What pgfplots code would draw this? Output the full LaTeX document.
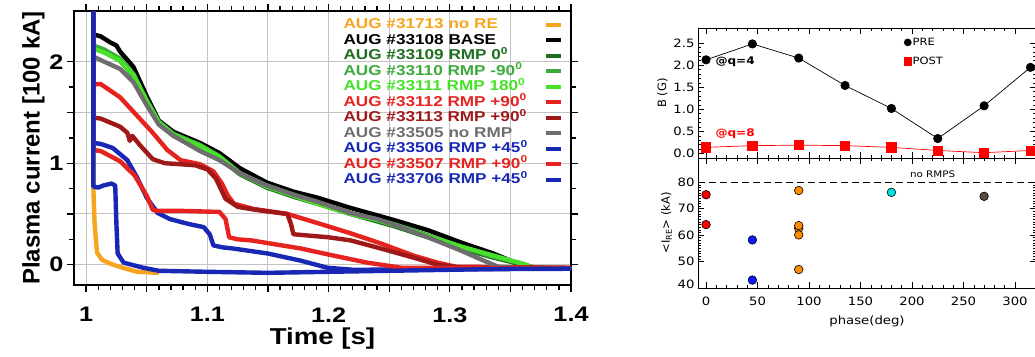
\documentclass[border=0pt]{standalone}
\usepackage{pgfplots}
\pgfplotsset{compat=1.18}
\usepackage{fontspec}
\setmainfont{Liberation Sans}
\newfontfamily\lfont[FakeStretch=1.2]{Liberation Sans}
\newfontfamily\rfont[FakeStretch=1.15]{DejaVu Sans}
\newfontfamily\rfontn{DejaVu Sans}
\definecolor{corange}{RGB}{247,165,30}
\definecolor{cdgreen}{RGB}{30,110,30}
\definecolor{cmgreen}{RGB}{60,170,60}
\definecolor{clgreen}{RGB}{70,225,40}
\definecolor{cred}{RGB}{230,35,30}
\definecolor{cdred}{RGB}{160,25,25}
\definecolor{cgray}{RGB}{110,110,110}
\definecolor{cblue}{RGB}{25,40,180}
\definecolor{porange}{RGB}{255,140,0}
\definecolor{pcyan}{RGB}{0,225,225}
\definecolor{pbrown}{RGB}{90,75,65}
\definecolor{pblue}{RGB}{20,20,255}
\definecolor{cgrid}{RGB}{195,195,195}
\begin{document}
\begin{tikzpicture}
\useasboundingbox (0pt,0pt) rectangle (1035pt,356pt);
% ---------------- left panel ----------------
\begin{axis}[at={(74pt,71pt)}, anchor=south west, scale only axis,
  width=497pt, height=274pt,
  xmin=0.99, xmax=1.4, ymin=-0.2, ymax=2.5,
  xtick={1,1.05,1.1,1.15,1.2,1.25,1.3,1.35,1.4},
  xticklabels={1,,1.1,,1.2,,1.3,,1.4},
  minor x tick num=4,
  ytick={0,0.5,1,1.5,2}, yticklabels={0,,1,,2},
  minor y tick num=1,
  xmajorgrids=true, ymajorgrids=true,
  grid style={draw=cgrid, line width=1pt},
  major grid style={draw=cgrid, line width=1pt},
  axis line style={line width=1.6pt},
  every tick/.style={black, line width=1.3pt},
  major tick length=7pt, minor tick length=4.5pt, tick align=outside,
  ticklabel style={font=\lfont\bfseries\fontsize{21}{21}\selectfont},
  xticklabel style={yshift=-12pt},
  xlabel={Time [s]}, ylabel={Plasma current [100 kA]},
  xlabel style={font=\lfont\bfseries\fontsize{23}{24}\selectfont, yshift=1pt},
  ylabel style={font=\bfseries\fontsize{24}{24}\selectfont, yshift=-2pt},
  legend plot pos=right, legend cell align=left,
  legend style={at={(axis description cs:0.532,0.985)}, anchor=north west,
    draw=none, fill=none, font=\lfont\bfseries\fontsize{14.3}{15}\selectfont,
    nodes={text height=10pt, text depth=2.5pt, inner ysep=1.2pt, inner xsep=2pt},
    row sep=0.6pt, /tikz/every odd column/.append style={column sep=14pt}},
  legend image code/.code={\draw[#1, line width=3.8pt] (0pt,0pt) -- (15pt,0pt);},
]
\addplot[corange, line width=4.4pt, line join=round] coordinates {(1.006,2.6)(1.006,0.75)(1.007,0.4)(1.009,0.12)(1.013,0.05)(1.02,0.01)(1.03,-0.03)(1.042,-0.07)(1.06,-0.08)};
\addlegendentry{\textcolor{corange}{AUG \#31713 no RE}}
\addplot[black, line width=4.4pt, line join=round] coordinates {(1.006,2.6)(1.006,2.27)(1.012,2.25)(1.02,2.19)(1.025,2.16)(1.028,2.1)(1.039,1.95)(1.05,1.66)(1.06,1.42)(1.072,1.31)(1.094,1.2)(1.11,1.1)(1.127,0.95)(1.149,0.81)(1.171,0.72)(1.191,0.66)(1.218,0.56)(1.254,0.44)(1.282,0.34)(1.309,0.22)(1.336,0.11)(1.35,0.04)(1.362,-0.03)(1.4,-0.04)};
\addlegendentry{\textcolor{black}{AUG \#33108 BASE}}
\addplot[cdgreen, line width=4.4pt, line join=round] coordinates {(1.006,2.6)(1.006,2.14)(1.015,2.1)(1.028,2.01)(1.039,1.86)(1.05,1.6)(1.06,1.39)(1.072,1.27)(1.094,1.16)(1.11,1.05)(1.127,0.89)(1.149,0.76)(1.171,0.67)(1.191,0.6)(1.218,0.5)(1.254,0.38)(1.282,0.27)(1.309,0.16)(1.336,0.07)(1.36,0.0)(1.37,-0.03)(1.4,-0.04)};
\addlegendentry{\textcolor{cdgreen}{AUG \#33109 RMP 0\textsuperscript{0}}}
\addplot[cmgreen, line width=4.4pt, line join=round] coordinates {(1.006,2.6)(1.006,2.16)(1.015,2.12)(1.028,2.03)(1.039,1.88)(1.05,1.62)(1.06,1.41)(1.072,1.29)(1.094,1.18)(1.11,1.07)(1.127,0.9)(1.149,0.78)(1.171,0.69)(1.191,0.61)(1.218,0.51)(1.254,0.4)(1.282,0.29)(1.309,0.18)(1.336,0.08)(1.36,0.01)(1.37,-0.03)(1.4,-0.04)};
\addlegendentry{\textcolor{cmgreen}{AUG \#33110 RMP -90\textsuperscript{0}}}
\addplot[clgreen, line width=4.4pt, line join=round] coordinates {(1.006,2.6)(1.006,2.13)(1.015,2.09)(1.028,2.01)(1.039,1.87)(1.05,1.61)(1.06,1.4)(1.072,1.28)(1.094,1.17)(1.11,1.06)(1.127,0.9)(1.149,0.77)(1.171,0.68)(1.191,0.6)(1.218,0.5)(1.24,0.44)(1.26,0.37)(1.282,0.28)(1.309,0.18)(1.336,0.09)(1.36,0.01)(1.368,-0.03)(1.4,-0.04)};
\addlegendentry{\textcolor{clgreen}{AUG \#33111 RMP 180\textsuperscript{0}}}
\addplot[cred, line width=4.4pt, line join=round] coordinates {(1.006,2.6)(1.006,1.78)(1.012,1.78)(1.028,1.65)(1.045,1.43)(1.055,1.3)(1.067,1.13)(1.078,1.03)(1.094,0.99)(1.105,0.92)(1.112,0.8)(1.117,0.68)(1.122,0.6)(1.138,0.55)(1.166,0.5)(1.191,0.41)(1.218,0.31)(1.243,0.21)(1.27,0.09)(1.29,0.02)(1.305,-0.02)(1.4,-0.03)};
\addlegendentry{\textcolor{cred}{AUG \#33112 RMP +90\textsuperscript{0}}}
\addplot[cdred, line width=4.4pt, line join=round] coordinates {(1.006,2.6)(1.006,1.45)(1.012,1.44)(1.028,1.36)(1.034,1.3)(1.036,1.22)(1.038,1.27)(1.045,1.17)(1.055,1.04)(1.065,1.0)(1.09,0.98)(1.1,0.94)(1.107,0.85)(1.115,0.65)(1.125,0.57)(1.14,0.54)(1.166,0.5)(1.169,0.4)(1.171,0.3)(1.2,0.27)(1.218,0.24)(1.243,0.16)(1.27,0.07)(1.29,0.0)(1.31,-0.03)(1.4,-0.03)};
\addlegendentry{\textcolor{cdred}{AUG \#33113 RMP +90\textsuperscript{0}}}
\addplot[cgray, line width=4.4pt, line join=round] coordinates {(1.006,2.6)(1.006,2.05)(1.015,2.0)(1.028,1.93)(1.039,1.8)(1.05,1.57)(1.06,1.38)(1.072,1.27)(1.094,1.12)(1.11,1.03)(1.127,0.9)(1.149,0.78)(1.171,0.69)(1.191,0.62)(1.218,0.51)(1.24,0.45)(1.26,0.37)(1.282,0.27)(1.309,0.14)(1.328,0.04)(1.34,-0.02)(1.36,-0.04)(1.4,-0.04)};
\addlegendentry{\textcolor{cgray}{AUG \#33505 no RMP}}
\addplot[cblue, line width=4.4pt, line join=round] coordinates {(1.006,2.6)(1.006,1.2)(1.012,1.19)(1.022,1.15)(1.034,1.03)(1.042,0.86)(1.05,0.66)(1.059,0.51)(1.069,0.45)(1.085,0.4)(1.097,0.37)(1.102,0.3)(1.105,0.19)(1.113,0.17)(1.121,0.16)(1.15,0.11)(1.177,0.04)(1.199,-0.03)(1.22,-0.05)(1.4,-0.04)};
\addlegendentry{\textcolor{cblue}{AUG \#33506 RMP +45\textsuperscript{0}}}
\addplot[cred, line width=4.4pt, line join=round] coordinates {(1.006,2.6)(1.006,1.13)(1.012,1.12)(1.028,1.02)(1.04,0.88)(1.05,0.68)(1.055,0.54)(1.06,0.53)(1.08,0.53)(1.11,0.52)(1.115,0.45)(1.118,0.27)(1.125,0.25)(1.136,0.24)(1.177,0.16)(1.204,0.09)(1.232,0.02)(1.26,-0.03)(1.4,-0.04)};
\addlegendentry{\textcolor{cred}{AUG \#33507 RMP +90\textsuperscript{0}}}
\addplot[cblue, line width=4.4pt, line join=round] coordinates {(1.006,2.6)(1.006,0.77)(1.01,0.76)(1.014,0.78)(1.021,0.8)(1.024,0.78)(1.025,0.4)(1.026,0.11)(1.031,0.02)(1.047,-0.03)(1.06,-0.06)(1.1,-0.07)(1.15,-0.08)(1.2,-0.07)(1.25,-0.06)(1.3,-0.05)(1.35,-0.04)(1.4,-0.04)};
\addlegendentry{\textcolor{cblue}{AUG \#33706 RMP +45\textsuperscript{0}}}
\end{axis}
% ---------------- right top panel ----------------
\begin{axis}[at={(698pt,198pt)}, anchor=south west, scale only axis,
  width=338pt, height=130pt,
  xmin=-7.8, xmax=320.4, ymin=-0.1, ymax=2.84,
  xtick={0,50,...,300}, xticklabels={}, minor x tick num=4,
  ytick={0,0.5,1,1.5,2,2.5}, minor y tick num=4,
  yticklabel style={/pgf/number format/.cd, fixed, fixed zerofill, precision=1},
  /pgf/number format/assume math mode=true,
  tick align=inside, major tick length=6pt, minor tick length=3pt,
  axis line style={line width=0.8pt}, tick style={black, line width=0.6pt},
  ticklabel style={font=\rfont\fontsize{11.5}{12}\selectfont},
  ylabel={B\,\,(G)}, ylabel style={font=\rfontn\fontsize{11.5}{12}\selectfont, yshift=-1pt},
  legend cell align=left,
  legend style={at={(axis cs:192,2.3)}, anchor=west, draw=none, fill=none,
    font=\rfont\fontsize{10}{11}\selectfont, row sep=6pt, inner sep=0pt,
    nodes={inner xsep=1pt}},
]
\addplot[black, line width=0.7pt, mark=*, mark size=4.2pt, forget plot] coordinates {(0,2.12)(45,2.48)(90,2.16)(135,1.54)(180,1.02)(225,0.34)(270,1.08)(315,1.95)};
\addplot[red, line width=0.7pt, mark=square*, mark size=4.6pt, forget plot] coordinates {(0,0.14)(45,0.18)(90,0.19)(135,0.18)(180,0.14)(225,0.07)(270,0.02)(315,0.07)};
\addlegendimage{only marks, mark=*, mark size=3.6pt, black}
\addlegendentry{PRE}
\addlegendimage{only marks, mark=square*, mark size=3.8pt, red}
\addlegendentry{POST}
\node[anchor=west, font=\rfont\bfseries\fontsize{10.5}{12}\selectfont, inner sep=0pt] at (axis cs:9,2.07) {@q=4};
\node[anchor=west, font=\rfont\bfseries\fontsize{10.5}{12}\selectfont, text=red, inner sep=0pt] at (axis cs:9,0.46) {@q=8};
\end{axis}
% ---------------- right bottom panel ----------------
\begin{axis}[at={(698pt,68pt)}, anchor=south west, scale only axis,
  width=338pt, height=130pt,
  xmin=-7.8, xmax=320.4, ymin=40, ymax=89.2,
  xtick={0,50,...,300}, minor x tick num=4,
  ytick={50,60,70,80}, minor y tick num=9,
  extra y ticks={40}, extra y tick style={yticklabel style={yshift=4pt}},
  /pgf/number format/assume math mode=true,
  tick align=inside, major tick length=6pt, minor tick length=3pt,
  axis line style={line width=0.8pt}, tick style={black, line width=0.6pt},
  ticklabel style={font=\rfont\fontsize{11.5}{12}\selectfont},
  xticklabel style={yshift=-5pt},
  xlabel={phase(deg)}, xlabel style={font=\rfont\fontsize{11.5}{12}\selectfont, yshift=-4pt},
  ylabel={<I\textsubscript{RE}>\,\,(kA)}, ylabel style={font=\rfontn\fontsize{11.5}{12}\selectfont, yshift=-1pt},
]
\addplot[black, dashed, line width=1pt, dash pattern=on 7pt off 4pt] coordinates {(-7.8,80)(320.4,80)};
\addplot[only marks, mark=*, mark size=4.3pt, mark options={fill=red, draw=black, line width=0.6pt}] coordinates {(0,75.3)(0,64.0)};
\addplot[only marks, mark=*, mark size=4.3pt, mark options={fill=pblue, draw=black, line width=0.6pt}] coordinates {(45,58.2)(45,43.0)};
\addplot[only marks, mark=*, mark size=4.3pt, mark options={fill=porange, draw=black, line width=0.6pt}] coordinates {(90,76.9)(90,62.6)(90,63.6)(90,60.1)(90,47.0)};
\addplot[only marks, mark=*, mark size=4.3pt, mark options={fill=pcyan, draw=black, line width=0.6pt}] coordinates {(180,76.2)};
\addplot[only marks, mark=*, mark size=4.3pt, mark options={fill=pbrown, draw=black, line width=0.6pt}] coordinates {(270,74.7)};
\node[font=\rfont\fontsize{9}{10}\selectfont] at (axis cs:220,83) {no RMPS};
\end{axis}
\end{tikzpicture}
\end{document}
